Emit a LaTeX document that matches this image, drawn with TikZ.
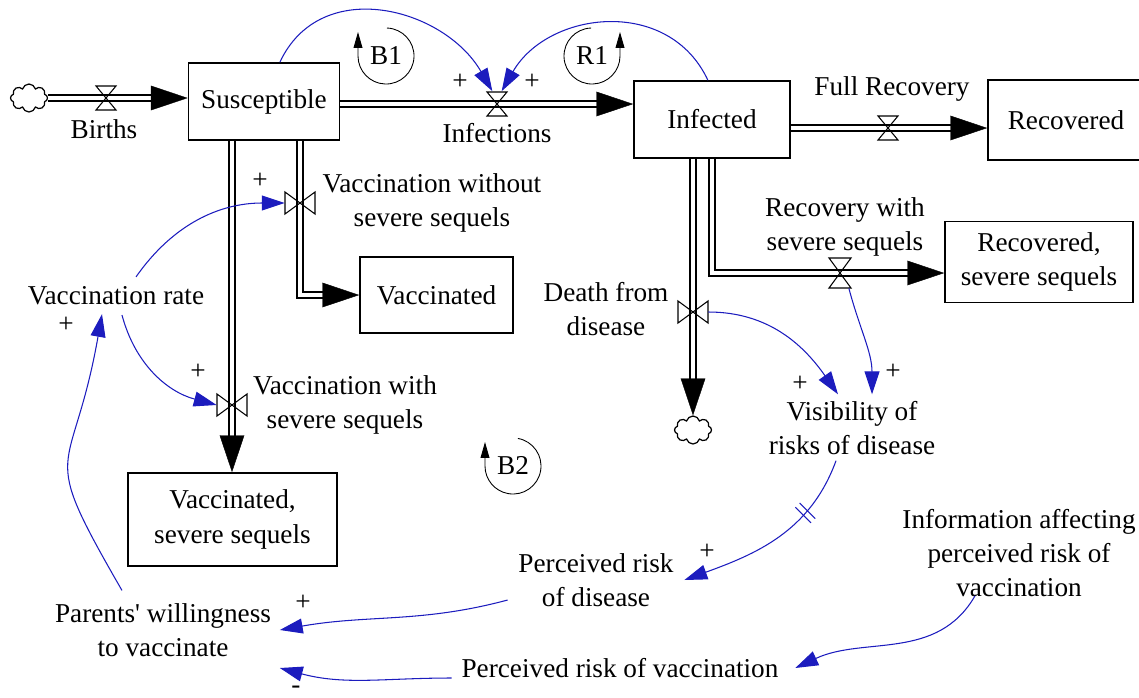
\documentclass[tikz,border=0pt]{standalone}
\usepackage{fontspec}
\setmainfont{Liberation Serif}
\usetikzlibrary{arrows.meta,shapes.symbols}
\definecolor{linkblue}{RGB}{28,28,190}
\tikzset{
  every node/.style={font=\fontsize{15.5}{19.5}\selectfont},
  stock/.style={rectangle, draw=black, line width=0.9pt, align=center, inner sep=1pt},
  source/.style={cloud, draw=black, line width=0.7pt, cloud puffs=8,
    aspect=1.3, minimum width=0.74cm, minimum height=0.56cm, inner sep=0pt},
  pipe/.style={draw=white, line width=0.2pt,
    -{Triangle[length=21pt, width=14pt, color=black]},
    preaction={draw=black, double=white, line width=0.8pt,
      double distance=2.8pt, arrows=-, shorten >=19pt}},
  valveh/.style={inner sep=0pt, minimum width=0.4cm, minimum height=0.5cm},
  valvev/.style={inner sep=0pt, minimum width=0.6cm, minimum height=0.44cm},
  valveline/.style={draw=black, line width=0.6pt},
  hglass/.pic={\draw[valveline] (-10,12) -- (10,12) -- (-10,-12) -- (10,-12) -- cycle;},
  tallglass/.pic={\draw[valveline] (-11,15) -- (11,15) -- (-11,-15) -- (11,-15) -- cycle;},
  bowtie/.pic={\draw[valveline] (-15,11) -- (-15,-11) -- (15,11) -- (15,-11) -- cycle;},
  delay/.pic={\draw[linkblue, line width=0.6pt] (-3,-11) -- (-3,11) (3,-11) -- (3,11);},
  aux/.style={align=center, inner sep=2pt},
  link/.style={draw=linkblue, line width=0.6pt, -{Triangle[length=13pt, width=8.5pt]}},
  polarity/.style={inner sep=1pt},
  loopname/.style={inner sep=0pt},
  loopmark/.style={draw=black, line width=0.5pt, -{Triangle[length=9pt, width=5pt]}}
}

\begin{document}
\begin{tikzpicture}[x=0.02cm, y=0.02cm]
  \useasboundingbox (0,0) rectangle (1139,-697);

  % ==== STOCKS ====
  \node[stock, minimum width=3.02cm, minimum height=1.54cm] (sus)  at (264,-101.5) {Susceptible};
  \node[stock, minimum width=3.12cm, minimum height=1.54cm] (inf)  at (712,-119.5) {Infected};
  \node[stock, minimum width=3.12cm, minimum height=1.6cm]  (rec)  at (1066,-120)  {Recovered};
  \node[stock, minimum width=3.76cm, minimum height=1.62cm] (recS) at (1039,-262)  {Recovered,\\severe sequels};
  \node[stock, minimum width=3.06cm, minimum height=1.52cm] (vac)  at (436.5,-295) {Vaccinated};
  \node[stock, minimum width=4.18cm, minimum height=1.86cm] (vacS) at (232.5,-519.5) {Vaccinated,\\severe sequels};

  % ==== SOURCE AND SINK ====
  \node[source] (cBirth) at (29,-98) {};
  \node[source] (cDeath) at (693,-430) {};

  % ==== VALVES (positions) ====
  \node[valveh] (vBirths) at (106,-98) {};
  \node[valveh] (vInf)    at (497,-104) {};
  \node[valveh] (vFr)     at (888,-128) {};
  \node[valveh, minimum height=0.6cm] (vRs) at (840,-273) {};
  \node[valvev] (vDeath)  at (693,-312) {};
  \node[valvev] (vVw)     at (300,-203) {};
  \node[valvev] (vVs)     at (232,-405) {};

  % ==== FLOWS ====
  \draw[pipe] (cBirth.east) -- (cBirth.east -| sus.west);
  \draw[pipe] (sus.east |- vInf) -- (vInf -| inf.west);
  \draw[pipe] (inf.east |- vFr) -- (vFr -| rec.west);
  \draw[pipe] (inf.south) |- (vRs -| recS.west);
  \draw[pipe] (vDeath |- inf.south) -- (vDeath |- cDeath.north);
  \draw[pipe] (vVw |- sus.south) |- (vac.west);
  \draw[pipe] (vVs |- sus.south) -- (vVs |- vacS.north);

  \pic at (vBirths) {hglass};
  \pic at (vInf) {hglass};
  \pic at (vFr) {hglass};
  \pic at (vRs) {tallglass};
  \pic at (vDeath) {bowtie};
  \pic at (vVw) {bowtie};
  \pic at (vVs) {bowtie};

  \node[aux] (tBirths) at (104,-129) {Births};
  \node[aux] (tInf)    at (497,-133) {Infections};
  \node[aux] (tFr)     at (892,-89)  {Full Recovery};
  \node[aux] (tRs)     at (845,-227) {Recovery with\\severe sequels};
  \node[aux] (tDeath)  at (606,-309) {Death from\\disease};
  \node[aux] (tVw)     at (432,-203) {Vaccination without\\severe sequels};
  \node[aux] (tVs)     at (345,-405) {Vaccination with\\severe sequels};

  % ==== AUXILIARIES ====
  \node[aux] (aRate) at (116,-296)  {Vaccination rate};
  \node[aux] (aVis)  at (852,-428)  {Visibility of\\risks of disease};
  \node[aux] (aPRD)  at (596,-580)  {Perceived risk\\of disease};
  \node[aux] (aInfo) at (1019,-553) {Information affecting\\perceived risk of\\vaccination};
  \node[aux] (aWill) at (163,-630)  {Parents\textquotesingle{} willingness\\to vaccinate};
  \node[aux] (aPRV)  at (620,-668)  {Perceived risk of vaccination};

  % ==== LINKS ====
  \draw[link] (sus.68) to[out=65, in=120, looseness=1.15] (vInf.110);
  \draw[link] (inf.96) to[out=115, in=60, looseness=1.15] (vInf.70);
  \draw[link] ([shift={(20,6)}]aRate.north) to[out=55, in=180] (vVw.west);
  \draw[link] ([shift={(6,-6)}]aRate.south) to[out=-75, in=165] (vVs.west);
  \draw[link] ([shift={(-41,9)}]aWill.north) to[out=120, in=-100, looseness=1.6]
    ([shift={(-14,-5)}]aRate.south);
  \draw[link] (vDeath.east) to[out=0, in=125] ([shift={(-14,3)}]aVis.north);
  \draw[link] (vRs.-60) to[out=-75, in=90] ([shift={(20,3)}]aVis.north);
  \draw[link] ([shift={(-16,-2)}]aVis.south) to[out=-110, in=20]
    coordinate[pos=0.3] (dMark) ([shift={(7,0)}]aPRD.east);
  \pic[rotate=45] at (dMark) {delay};
  \draw[link] ([shift={(-7,-20)}]aPRD.west) to[out=195, in=10] ([shift={(5,0)}]aWill.east);
  \draw[link] ([shift={(-44,5)}]aInfo.south) to[out=-120, in=25] ([shift={(13,0)}]aPRV.east);
  \draw[link] ([shift={(-6,-10)}]aPRV.west) to[out=180, in=-15] ([shift={(5,-38)}]aWill.east);

  % ==== POLARITIES ====
  \node[polarity] (p1)  at (460,-82)  {+};
  \node[polarity] (p2)  at (532,-82)  {+};
  \node[polarity] (p3)  at (260,-181) {+};
  \node[polarity] (p4)  at (66,-325)  {+};
  \node[polarity] (p5)  at (198,-372) {+};
  \node[polarity] (p6)  at (800,-384) {+};
  \node[polarity] (p7)  at (893,-372) {+};
  \node[polarity] (p8)  at (707,-552) {+};
  \node[polarity] (p9)  at (303,-603) {+};
  \node[polarity] (p10) at (296,-690) {-};

  % ==== LOOPS ====
  \node[loopname] (lB1) at (386,-56) {B1};
  \draw[loopmark] (lB1.center) ++(88:28) arc[start angle=88, end angle=-180, radius=28] -- ++(0,24);
  \node[loopname] (lR1) at (592,-56) {R1};
  \draw[loopmark] (lR1.center) ++(92:28) arc[start angle=92, end angle=360, radius=28] -- ++(0,24);
  \node[loopname] (lB2) at (513,-466) {B2};
  \draw[loopmark] (lB2.center) ++(80:28) arc[start angle=80, end angle=-180, radius=28] -- ++(0,24);
\end{tikzpicture}
\end{document}
